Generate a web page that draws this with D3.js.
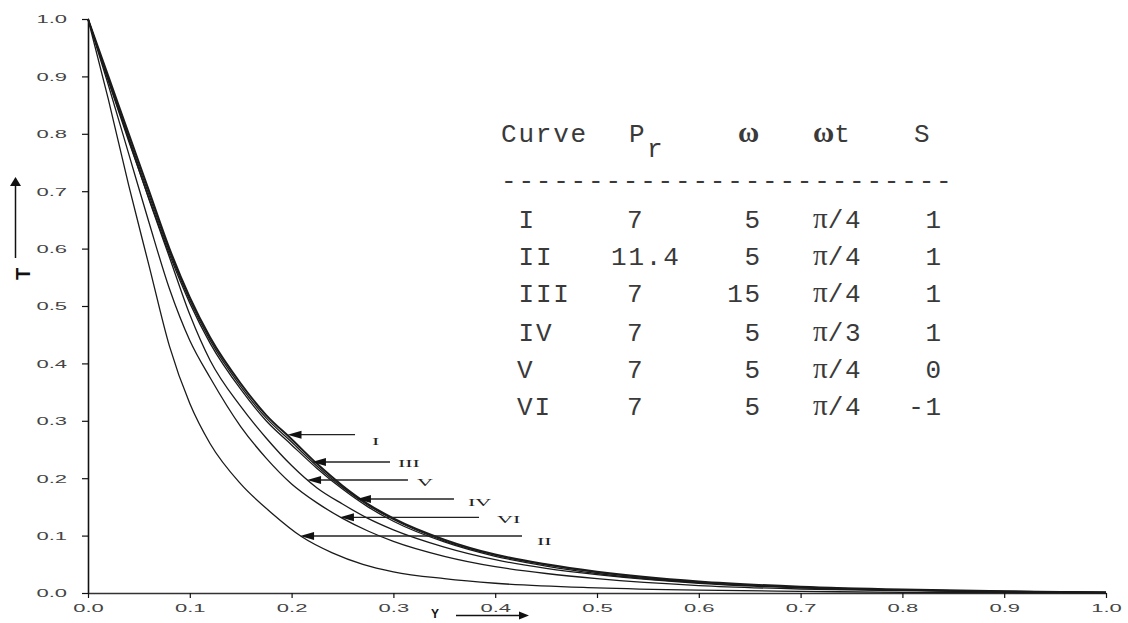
<!DOCTYPE html>
<html>
<head>
<meta charset="utf-8">
<script src="https://cdn.jsdelivr.net/npm/d3@7"></script>
<style>
  html, body { margin: 0; padding: 0; background: #fff; }
  svg { display: block; }
</style>
</head>
<body>
<svg id="chart" width="1128" height="623"></svg>
<script>
// ---------------- DATA ----------------
const yValues = [0, 0.02, 0.04, 0.06, 0.08, 0.1, 0.12, 0.15, 0.175, 0.2, 0.225, 0.25, 0.275, 0.3, 0.35, 0.4, 0.45, 0.5, 0.6, 0.7, 0.8, 0.9, 1.0];
const curveI   = [1, 0.900, 0.800, 0.700, 0.600, 0.515, 0.445, 0.365, 0.310, 0.268, 0.225, 0.187, 0.155, 0.130, 0.093, 0.067, 0.050, 0.037, 0.020, 0.011, 0.006, 0.003, 0.001];
const curveIII = [1, 0.895, 0.793, 0.693, 0.595, 0.510, 0.440, 0.360, 0.305, 0.263, 0.221, 0.184, 0.153, 0.128, 0.091, 0.066, 0.049, 0.036, 0.019, 0.010, 0.005, 0.003, 0.001];
const curveIV  = [1, 0.892, 0.787, 0.687, 0.590, 0.505, 0.435, 0.355, 0.300, 0.258, 0.217, 0.181, 0.150, 0.125, 0.089, 0.064, 0.047, 0.034, 0.018, 0.010, 0.005, 0.003, 0.001];
const curveV   = [1, 0.895, 0.790, 0.685, 0.585, 0.485, 0.405, 0.325, 0.270, 0.222, 0.183, 0.155, 0.130, 0.110, 0.080, 0.058, 0.043, 0.032, 0.017, 0.009, 0.005, 0.002, 0.001];
const curveVI  = [1, 0.885, 0.765, 0.645, 0.530, 0.440, 0.375, 0.290, 0.235, 0.190, 0.157, 0.130, 0.108, 0.090, 0.064, 0.046, 0.034, 0.025, 0.013, 0.007, 0.004, 0.002, 0.001];
const yValuesII = [0, 0.02, 0.04, 0.06, 0.08, 0.1, 0.12, 0.15, 0.18, 0.21, 0.24, 0.27, 0.3, 0.35, 0.4, 0.5, 0.6, 0.7, 0.8, 0.9, 1.0];
const curveII  = [1, 0.860, 0.710, 0.570, 0.430, 0.330, 0.260, 0.190, 0.140, 0.098, 0.070, 0.050, 0.037, 0.025, 0.017, 0.009, 0.005, 0.003, 0.001, 0.0005, 0];

const curveNames = ["I", "II", "III", "IV", "V", "VI"];
// annotation arrows: tip (x,T), tail x, label position (x,T)
const arrowTipX  = [0.196, 0.2083, 0.220, 0.2642, 0.2152, 0.2475];
const arrowTipT  = [0.2758, 0.0993, 0.2282, 0.1638, 0.1969, 0.1319];
const arrowTailX = [0.2623, 0.4263, 0.2967, 0.3595, 0.3143, 0.3841];
const labelX     = [0.279, 0.4411, 0.3045, 0.3733, 0.3232, 0.4018];
const labelT     = [0.2578, 0.0836, 0.2195, 0.1516, 0.1864, 0.1220];

// table
const tablePr    = ["7", "11.4", "7", "7", "7", "7"];
const tableOmega = ["5", "5", "15", "5", "5", "5"];
const tableOmegaT = ["/4", "/4", "/4", "/3", "/4", "/4"];
const tableS     = ["1", "1", "1", "1", "0", "-1"];

const xTicks = [0, 0.1, 0.2, 0.3, 0.4, 0.5, 0.6, 0.7, 0.8, 0.9, 1.0];
const yTicks = [0, 0.1, 0.2, 0.3, 0.4, 0.5, 0.6, 0.7, 0.8, 0.9, 1.0];

// ---------------- DRAW ----------------
const svg = d3.select("#chart");
const x = d3.scaleLinear().domain([0, 1]).range([88, 1106]);
const y = d3.scaleLinear().domain([0, 1]).range([593, 19]);

// axes
const yAxis = svg.append("g").attr("transform", "translate(88,0)")
  .call(d3.axisLeft(y).tickValues(yTicks).tickFormat(d3.format(".1f")).tickSize(6).tickSizeOuter(0));
yAxis.select(".domain").attr("stroke", "#111").attr("stroke-width", 1.6);
yAxis.selectAll(".tick line").attr("stroke", "#111").attr("stroke-width", 1.2);
yAxis.selectAll(".tick text")
  .attr("x", 0).attr("dy", "0.36em")
  .attr("transform", "translate(-21,0) scale(2,1)")
  .attr("text-anchor", "end")
  .style("font-family", "'Liberation Sans', Arial, sans-serif")
  .style("font-size", "11px").attr("fill", "#444");

const xAxis = svg.append("g").attr("transform", "translate(0,593)")
  .call(d3.axisBottom(x).tickValues(xTicks).tickFormat(d3.format(".1f")).tickSize(5).tickSizeOuter(0));
xAxis.select(".domain").attr("stroke", "#333").attr("stroke-width", 1.6);
xAxis.selectAll(".tick line").attr("stroke", "#111").attr("stroke-width", 1.2);
xAxis.selectAll(".tick text")
  .attr("y", 11).attr("dy", "0.71em")
  .attr("transform", "scale(2,1)")
  .attr("text-anchor", "middle")
  .style("font-family", "'Liberation Sans', Arial, sans-serif")
  .style("font-size", "11px").attr("fill", "#444");

// curves
const line = d3.line().x(d => x(d[0])).y(d => y(d[1])).curve(d3.curveMonotoneX);
const series = [
  {name: "VI", xs: yValues, ts: curveVI, w: 1.3},
  {name: "V", xs: yValues, ts: curveV, w: 1.3},
  {name: "IV", xs: yValues, ts: curveIV, w: 1.3},
  {name: "III", xs: yValues, ts: curveIII, w: 1.3},
  {name: "II", xs: yValuesII, ts: curveII, w: 1.3},
  {name: "I", xs: yValues, ts: curveI, w: 2.0}
];
svg.append("g").selectAll("path").data(series).join("path")
  .attr("d", s => line(s.xs.map((v, i) => [v, s.ts[i]])))
  .attr("fill", "none").attr("stroke", "#1a1a1a")
  .attr("stroke-width", s => s.w);

// annotations
const ann = svg.append("g");
curveNames.forEach((nm, i) => {
  const tx = x(arrowTipX[i]), ty = y(arrowTipT[i]);
  ann.append("line").attr("x1", tx + 10).attr("y1", ty).attr("x2", x(arrowTailX[i])).attr("y2", ty)
    .attr("stroke", "#222").attr("stroke-width", 1.3);
  ann.append("path")
    .attr("d", `M${tx},${ty} L${tx + 14},${ty - 4} L${tx + 14},${ty + 4} Z`)
    .attr("fill", "#111");
  ann.append("text")
    .attr("transform", `translate(${x(labelX[i])},${y(labelT[i])}) scale(2,1)`)
    .style("font-family", "'Liberation Serif', 'Times New Roman', serif")
    .style("font-size", "11px").attr("fill", "#222")
    .text(nm);
});

// axis titles
svg.append("text")
  .attr("transform", "translate(30,274) rotate(-90)")
  .attr("text-anchor", "middle")
  .style("font-family", "'Liberation Sans', Arial, sans-serif")
  .style("font-weight", "bold").style("font-size", "20px").attr("fill", "#111")
  .text("T");
svg.append("line").attr("x1", 15.5).attr("y1", 258).attr("x2", 15.5).attr("y2", 184)
  .attr("stroke", "#111").attr("stroke-width", 1.5);
svg.append("path").attr("d", "M15.5,177 L10,186 L21,186 Z").attr("fill", "#111");

svg.append("text")
  .attr("x", 435).attr("y", 618)
  .attr("text-anchor", "middle")
  .style("font-family", "'Liberation Sans', Arial, sans-serif")
  .style("font-weight", "bold").style("font-size", "12px").attr("fill", "#111")
  .text("Y");
svg.append("line").attr("x1", 456).attr("y1", 615.5).attr("x2", 520).attr("y2", 615.5)
  .attr("stroke", "#111").attr("stroke-width", 1.5);
svg.append("path").attr("d", "M529,615.5 L519,611.5 L519,619.5 Z").attr("fill", "#111");

// table
const mono = "'Liberation Mono', 'Courier New', monospace";
const serif = "'Liberation Serif', 'Times New Roman', serif";
const tbl = svg.append("g").attr("fill", "#3a3a3a").style("font-size", "26px");
function mtext(xx, yy, s, anchor) {
  return tbl.append("text").attr("x", xx).attr("y", yy)
    .attr("text-anchor", anchor || "start")
    .style("font-family", mono).style("letter-spacing", "1.8px").text(s);
}
mtext(501, 142, "Curve");
mtext(629, 142, "P");
mtext(647, 157, "r");
tbl.append("text").attr("x", 738).attr("y", 142).style("font-family", serif).style("font-weight", "bold").style("font-size", "29px").text("\u03C9");
const hwt = tbl.append("text").attr("x", 813).attr("y", 142);
hwt.append("tspan").style("font-family", serif).style("font-weight", "bold").style("font-size", "29px").text("\u03C9");
hwt.append("tspan").style("font-family", mono).text("t");
mtext(914, 142, "S");
mtext(501, 189, "-".repeat(26));

const rowY = [228, 264.5, 302, 341, 378, 415];
curveNames.forEach((nm, i) => {
  const yy = rowY[i];
  mtext(nm.startsWith("V") ? 517 : 518.5, yy, nm);
  mtext(tablePr[i].length > 1 ? 611 : 627, yy, tablePr[i]);
  mtext(762, yy, tableOmega[i], "end");
  const t = tbl.append("text").attr("x", 813).attr("y", yy);
  t.append("tspan").style("font-family", serif).style("font-size", "29px").text("\u03C0");
  t.append("tspan").style("font-family", mono).style("letter-spacing", "1.8px").text(tableOmegaT[i]);
  mtext(943, yy, tableS[i], "end");
});
</script>
</body>
</html>
